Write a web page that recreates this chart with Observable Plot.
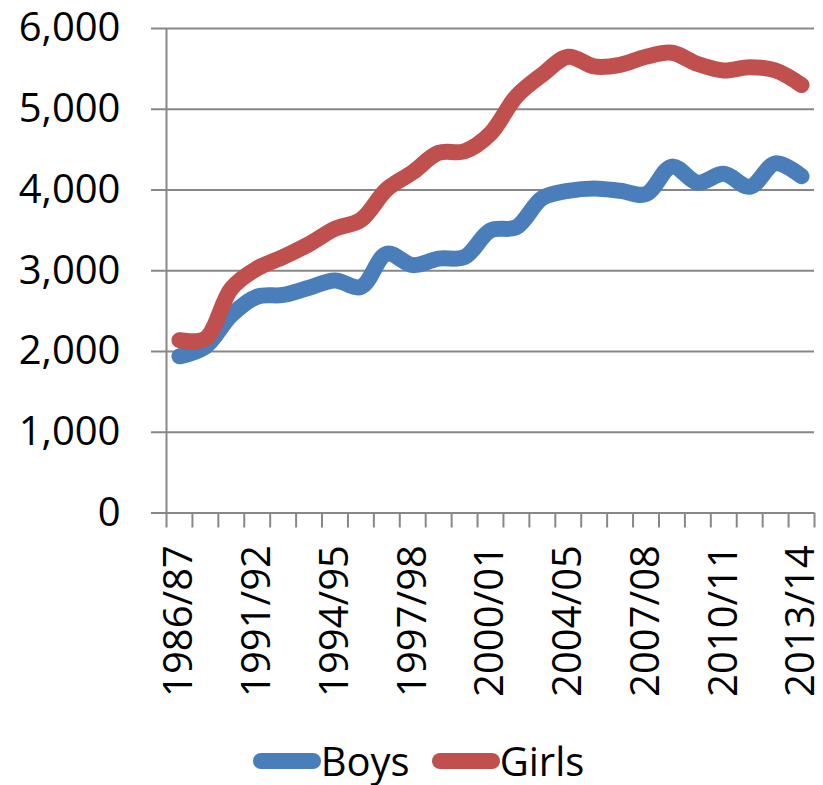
<!DOCTYPE html>
<html>
<head>
<meta charset="utf-8">
<script src="https://cdn.jsdelivr.net/npm/d3@7"></script>
<script src="https://cdn.jsdelivr.net/npm/@observablehq/plot@0.6"></script>
<style>
  body { margin: 0; background: white; }
  #wrap { position: relative; width: 823px; height: 785px; }
  #legend { position: absolute; left: 0; width: 837px; top: 733px; display: flex; justify-content: center; align-items: center;
            font-family: "Open Sans", sans-serif; font-size: 40px; color: #000; }
  .sw { width: 68px; height: 16px; border-radius: 8px; display: inline-block; }
  .item { display: flex; align-items: center; margin: 0 11px; }
  svg { overflow: visible; }
</style>
</head>
<body>
<div id="wrap"><div id="chart"></div><div id="legend"></div></div>
<script>
const categories = ["1986/87","1988/89","1990/91","1991/92","1992/93","1993/94","1994/95","1995/96","1996/97",
  "1997/98","1998/99","1999/00","2000/01","2001/02","2002/03","2004/05","2005/06","2006/07","2007/08",
  "2008/09","2009/10","2010/11","2011/12","2012/13","2013/14"];
const boys  = [1940, 2060, 2450, 2680, 2700, 2790, 2880, 2800, 3210, 3070, 3150, 3170, 3500, 3540, 3900,
  3990, 4020, 3990, 3950, 4290, 4090, 4200, 4040, 4330, 4170];
const girls = [2140, 2160, 2780, 3030, 3170, 3330, 3520, 3630, 4010, 4220, 4460, 4480, 4700, 5160, 5430,
  5650, 5530, 5550, 5650, 5700, 5560, 5480, 5520, 5480, 5300];
const series = ["Boys", "Girls"];
const colors = ["#4A7EBB", "#C0504D"];
const yTicks = [0, 1000, 2000, 3000, 4000, 5000, 6000];
const labelIdx = [0, 3, 6, 9, 12, 15, 18, 21, 24];

const data = categories.flatMap((c, i) => [
  {i, c, v: boys[i], s: "Boys"},
  {i, c, v: girls[i], s: "Girls"}
]);
const gray = "#878787";

const chart = Plot.plot({
  width: 823, height: 720,
  marginLeft: 166, marginRight: 9, marginTop: 28, marginBottom: 207.5,
  x: {type: "linear", domain: [0, categories.length]},
  y: {domain: [0, 6000]},
  color: {domain: series, range: colors},
  style: {fontFamily: "Open Sans, sans-serif", fontSize: "40px", color: "#000", background: "white", overflow: "visible"},
  marks: [
    Plot.gridY({ticks: yTicks, stroke: gray, strokeOpacity: 1, strokeWidth: 2}),
    Plot.axisY({ticks: yTicks, tickSize: 15, tickPadding: 31, tickFormat: d3.format(","), stroke: gray, strokeWidth: 2, label: null}),
    Plot.axisX({ticks: d3.range(categories.length + 1), tickSize: 15, tickFormat: () => "", stroke: gray, strokeWidth: 2, label: null}),
    Plot.axisX({ticks: labelIdx.map(i => i + 0.5), tickSize: 0, tickPadding: 32, tickRotate: -90,
      tickFormat: d => categories[Math.floor(d)], label: null}),
    Plot.ruleX([0], {stroke: gray, strokeWidth: 2}),
    Plot.ruleY([0], {stroke: gray, strokeWidth: 2}),
    Plot.line(data, {x: d => d.i + 0.5, y: "v", z: "s", stroke: "s", strokeWidth: 16,
      strokeLinecap: "round", strokeLinejoin: "round", curve: "catmull-rom"})
  ]
});
document.getElementById("chart").appendChild(chart);

const legend = document.getElementById("legend");
series.forEach((s, k) => {
  const it = document.createElement("div");
  it.className = "item";
  const sw = document.createElement("span");
  sw.className = "sw";
  sw.style.background = colors[k];
  const t = document.createElement("span");
  t.textContent = s;
  it.appendChild(sw); it.appendChild(t);
  legend.appendChild(it);
});
</script>
</body>
</html>
